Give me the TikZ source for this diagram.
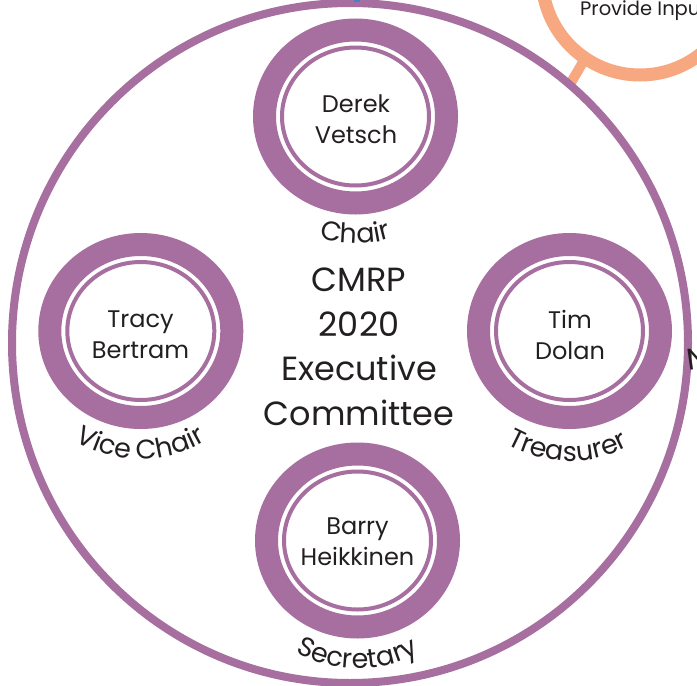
\documentclass[tikz,border=0pt]{standalone}
\usepackage{fontspec}
\setmainfont{Poppins}
\usetikzlibrary{decorations.text,calc}
\definecolor{cpurple}{RGB}{167,110,160}
\definecolor{corange}{RGB}{247,168,128}
\definecolor{ctext}{RGB}{35,31,32}
\definecolor{cblue}{RGB}{70,130,200}
\newcommand\lblfont{\fontsize{27}{30}\selectfont}
\begin{document}
\begin{tikzpicture}[x=1pt,y=1pt,
  bigring/.style={draw=cpurple,line width=8pt},
  ringband/.style={draw=cpurple,line width=23pt},
  ringthin/.style={draw=cpurple,line width=4pt},
  nametext/.style={text=ctext,font=\fontsize{24}{31}\selectfont,align=center,inner sep=0pt},
  titletext/.style={text=ctext,font=\fontsize{33.5}{44.5}\selectfont,align=center,inner sep=0pt},
  orangering/.style={draw=corange,line width=13pt},
  arclabel/.style={decorate,decoration={text along path,text align=center,text color=ctext,text={#1}}}
]
\useasboundingbox (0,0) rectangle (697,-686);
\clip (0,0) rectangle (697,-686);
\fill[white] (0,0) rectangle (697,-686);

% orange ring (top right) and its connector
\coordinate (oc) at (640,23);
\draw[orangering] (oc) circle[radius=98];
\node[text=ctext,font=\fontsize{19.5}{23}\selectfont,anchor=base west,inner sep=0pt] (provide) at (580,-15) {Provide Input};

% big outer ring
\coordinate (bc) at (350,-343);
\coordinate (stubA) at ($(oc)+(236:98)$);
\coordinate (stubB) at ($(bc)+(49.6:339)$);
\draw[draw=corange,line width=10pt] (stubA) -- (stubB);
\draw[bigring] (bc) ellipse[x radius=338,y radius=340];

% small pieces at top and bottom edge
\coordinate (topend) at (356.5,1);
\coordinate (topstart) at (356.5,-1.5);
\draw[cblue,line width=6pt] (topstart) -- (topend);
\coordinate (botc) at (357,-698);
\draw[cpurple,line width=6pt] (botc) circle[radius=11];

% partial letter at right edge
\node[text=ctext,font=\fontsize{30}{34}\selectfont,anchor=base west,inner sep=0pt,rotate=8] (edgeN) at (688,-371) {N};

% members
\coordinate (cD) at (355.5,-116.5);
\coordinate (cT) at (140.8,-331);
\coordinate (cM) at (569.5,-331);
\coordinate (cB) at (357.5,-540.5);
\foreach \c in {cD,cT,cM,cB}{
  \draw[ringband] (\c) ellipse[x radius=91,y radius=86.5];
  \draw[ringthin] (\c) ellipse[x radius=73.5,y radius=69];
}

\node[nametext] (derek) at (356,-119) {Derek\\Vetsch};
\node[nametext] (tracy) at (140.5,-335) {Tracy\\Bertram};
\node[nametext] (tim) at (570,-335) {Tim\\Dolan};
\node[nametext] (barry) at (357.5,-542) {Barry\\Heikkinen};

\node[titletext] (title) at (359,-347) {CMRP\\2020\\Executive\\Committee};

% curved role labels
\path[arclabel={|\lblfont|Chair}] ($(cD)+(200:127)$) arc[start angle=200,end angle=340,radius=127];
\path[arclabel={|\lblfont|Vice Chair}] ($(cT)+(200:128)$) arc[start angle=200,end angle=340,radius=128];
\path[arclabel={|\lblfont|Treasurer}] ($(cM)+(199:130)$) arc[start angle=199,end angle=339,radius=130];
\path[arclabel={|\lblfont|Secretary}] ($(cB)+(200:128)$) arc[start angle=200,end angle=340,radius=128];
\end{tikzpicture}
\end{document}
